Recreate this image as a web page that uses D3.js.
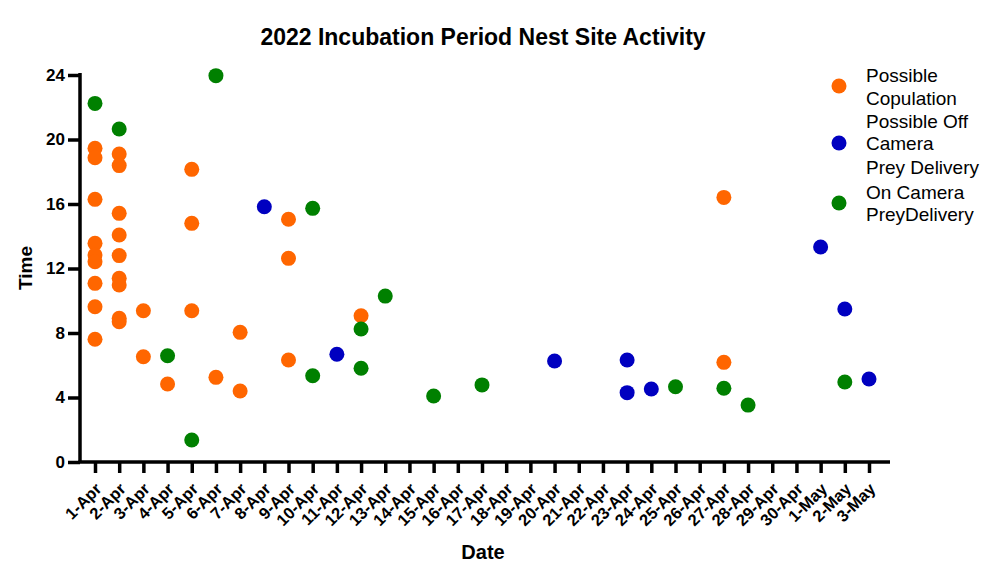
<!DOCTYPE html>
<html>
<head>
<meta charset="utf-8">
<script src="https://cdn.jsdelivr.net/npm/d3@7"></script>
<style>
  body { margin: 0; background: #fff; }
  svg { font-family: "Liberation Sans", Arial, sans-serif; }
</style>
</head>
<body>
<script>
// categories on the x axis
var dates = ['1-Apr','2-Apr','3-Apr','4-Apr','5-Apr','6-Apr','7-Apr','8-Apr','9-Apr','10-Apr',
  '11-Apr','12-Apr','13-Apr','14-Apr','15-Apr','16-Apr','17-Apr','18-Apr','19-Apr','20-Apr',
  '21-Apr','22-Apr','23-Apr','24-Apr','25-Apr','26-Apr','27-Apr','28-Apr','29-Apr','30-Apr',
  '1-May','2-May','3-May'];

var yTicks = [0, 4, 8, 12, 16, 20, 24];

// Possible Copulation
var copulation = [
  ['1-Apr',19.45],['1-Apr',18.87],['1-Apr',16.29],['1-Apr',13.56],['1-Apr',12.84],['1-Apr',12.42],
  ['1-Apr',11.08],['1-Apr',9.63],['1-Apr',7.61],
  ['2-Apr',19.1],['2-Apr',18.38],['2-Apr',15.42],['2-Apr',14.08],['2-Apr',12.8],['2-Apr',11.39],
  ['2-Apr',10.98],['2-Apr',8.91],['2-Apr',8.7],
  ['3-Apr',9.38],['3-Apr',6.53],
  ['4-Apr',4.84],
  ['5-Apr',18.15],['5-Apr',14.8],['5-Apr',9.38],
  ['6-Apr',5.25],
  ['7-Apr',8.04],['7-Apr',4.4],
  ['9-Apr',15.05],['9-Apr',12.63],['9-Apr',6.33],
  ['12-Apr',9.07],
  ['27-Apr',16.41],['27-Apr',6.18]
];

// Possible Off Camera Prey Delivery
var offCamera = [
  ['8-Apr',15.83],['11-Apr',6.68],['20-Apr',6.26],['23-Apr',6.33],['23-Apr',4.3],
  ['24-Apr',4.53],['1-May',13.33],['2-May',9.49],['3-May',5.15]
];

// On Camera PreyDelivery
var onCamera = [
  ['1-Apr',22.24],['2-Apr',20.65],['4-Apr',6.59],['5-Apr',1.36],['6-Apr',23.96],
  ['10-Apr',15.73],['10-Apr',5.35],['12-Apr',8.25],['12-Apr',5.81],['13-Apr',10.29],
  ['15-Apr',4.09],['17-Apr',4.78],['25-Apr',4.67],['27-Apr',4.57],['28-Apr',3.53],['2-May',4.96]
];

var seriesNames = [['Possible', 'Copulation'], ['Possible Off', 'Camera', 'Prey Delivery'], ['On Camera', 'PreyDelivery']];
var seriesColors = ['#ff6600', '#0000c0', '#008000'];
var seriesData = [copulation, offCamera, onCamera];

var width = 986, height = 581;

var svg = d3.select('body').append('svg')
    .attr('width', width)
    .attr('height', height);

var x = d3.scalePoint()
    .domain(dates)
    .range([95, 869]);

var y = d3.scaleLinear()
    .domain([0, 24])
    .range([462, 75]);

// title
svg.append('text')
    .attr('x', 483)
    .attr('y', 45)
    .attr('text-anchor', 'middle')
    .attr('font-size', 23)
    .attr('font-weight', 'bold')
    .text('2022 Incubation Period Nest Site Activity');

// y axis
var yAxis = svg.append('g')
    .attr('transform', 'translate(80,0)')
    .call(d3.axisLeft(y).tickValues(yTicks).tickSize(12).tickSizeOuter(0).tickPadding(3));
yAxis.select('.domain').attr('d', 'M0,73V462');

// x axis
var xAxis = svg.append('g')
    .attr('transform', 'translate(0,462)')
    .call(d3.axisBottom(x).tickSize(11).tickSizeOuter(0));
xAxis.select('.domain').attr('d', 'M78.5,0H890');

[yAxis, xAxis].forEach(function(ax){
    ax.selectAll('path, line').attr('stroke', '#000').attr('stroke-width', 3.5);
    ax.selectAll('text')
        .attr('fill', '#000')
        .attr('font-size', 17)
        .attr('font-weight', 'bold')
        .attr('font-family', '"Liberation Sans", Arial, sans-serif');
});

// rotated date labels
xAxis.selectAll('.tick text')
    .attr('text-anchor', 'end')
    .attr('dy', 0)
    .attr('y', 0)
    .attr('font-size', 16.5)
    .attr('transform', 'translate(7,28) rotate(-45)');

// axis titles
svg.append('text')
    .attr('transform', 'translate(32,268) rotate(-90)')
    .attr('text-anchor', 'middle')
    .attr('font-size', 19)
    .attr('font-weight', 'bold')
    .text('Time');

svg.append('text')
    .attr('x', 483)
    .attr('y', 559)
    .attr('text-anchor', 'middle')
    .attr('font-size', 20)
    .attr('font-weight', 'bold')
    .text('Date');

// points
seriesData.forEach(function(data, i){
    svg.append('g').selectAll('circle')
        .data(data)
        .enter().append('circle')
        .attr('cx', function(d){ return x(d[0]); })
        .attr('cy', function(d){ return y(d[1]); })
        .attr('r', 7.5)
        .attr('fill', seriesColors[i]);
});

// legend
var legendMarkY = [86, 143, 203];
var legendLineY = [[75, 98], [121, 143, 167], [192, 214]];
var legend = svg.append('g');
seriesNames.forEach(function(lines, i){
    legend.append('circle')
        .attr('cx', 839)
        .attr('cy', legendMarkY[i])
        .attr('r', 7.5)
        .attr('fill', seriesColors[i]);
    lines.forEach(function(t, j){
        legend.append('text')
            .attr('x', 866)
            .attr('y', legendLineY[i][j])
            .attr('dy', '0.35em')
            .attr('font-size', 19)
            .text(t);
    });
});
</script>
</body>
</html>
